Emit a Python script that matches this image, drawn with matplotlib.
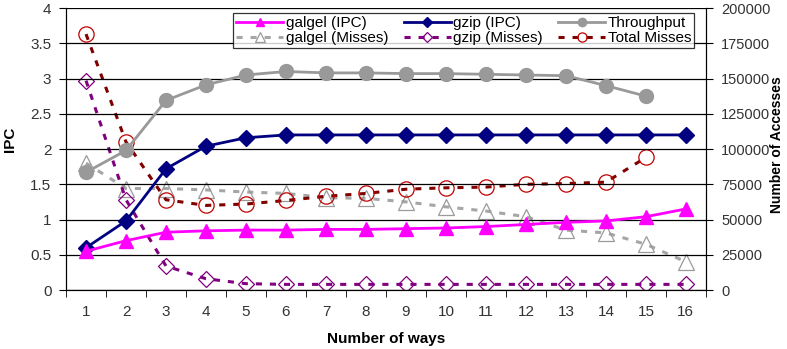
import numpy as np
import matplotlib.pyplot as plt
from matplotlib.ticker import FixedLocator

plt.rcParams['font.family'] = ['Liberation Sans', 'DejaVu Sans']

# ------------------------------------------------------------
# data : IPC per application, throughput and cache misses
# ------------------------------------------------------------
ways = np.arange(1, 17)
galgel_ipc = [0.55, 0.70, 0.82, 0.84, 0.85, 0.85, 0.86, 0.86, 0.87, 0.88, 0.90, 0.93, 0.96, 0.98, 1.04, 1.15]
gzip_ipc = [0.60, 0.98, 1.72, 2.04, 2.16, 2.20, 2.20, 2.20, 2.20, 2.20, 2.20, 2.20, 2.20, 2.20, 2.20, 2.20]
throughput = [1.67, 1.98, 2.69, 2.91, 3.05, 3.10, 3.08, 3.08, 3.07, 3.07, 3.06, 3.05, 3.04, 2.90, 2.75]
galgel_misses = [90000, 72000, 72000, 71000, 69500, 68500, 65500, 65000, 62500, 59000, 56000, 52000, 42500, 40500, 32500, 20000]
gzip_misses = [148500, 64000, 17000, 8000, 4500, 4000, 4000, 4000, 4000, 4000, 4000, 4000, 4000, 4000, 4000, 4000]
total_misses = [181500, 105000, 64000, 60000, 61000, 63500, 66500, 68500, 71500, 72500, 73000, 75000, 75500, 76500, 94000]

fig = plt.figure(figsize=(7.87, 3.49), dpi=100)
ax = fig.add_axes([0.0839, 0.169, 0.813, 0.808])
ax2 = ax.twinx()

dash = (0, (2.0, 2.6))

# misses on the right axis
h_galm, = ax2.plot(ways, galgel_misses, color='#a6a6a6', lw=2.2, ls=dash,
                   marker='^', ms=11, mfc='none', mec='#9a9a9a', mew=0.9, label='galgel (Misses)')
h_gzm, = ax2.plot(ways, gzip_misses, color='#800080', lw=2.2, ls=dash,
                  marker='D', ms=8.5, mfc='none', mec='#800080', mew=0.9, label='gzip (Misses)')
h_tot, = ax2.plot(ways[:len(total_misses)], total_misses, color='#800000', lw=2.2, ls=dash,
                  marker='o', ms=11, mfc='none', mec='#c00000', mew=0.9, label='Total Misses')

# IPC on the left axis
h_tp, = ax.plot(ways[:len(throughput)], throughput, color='#999999', lw=2,
                marker='o', ms=10, mec='#999999', label='Throughput')
h_gz, = ax.plot(ways, gzip_ipc, color='#000080', lw=2,
                marker='D', ms=8.5, label='gzip (IPC)')
h_gal, = ax.plot(ways, galgel_ipc, color='#ff00ff', lw=2,
                 marker='^', ms=10, label='galgel (IPC)')

ax.set_zorder(ax2.get_zorder() + 1)
ax.patch.set_visible(False)

ax.set_xlim(0.5, 16.5)
ax.set_ylim(0, 4)
ax2.set_ylim(0, 200000)
ax.set_yticks(np.arange(0, 4.01, 0.5))
ax.set_yticklabels(['0', '0.5', '1', '1.5', '2', '2.5', '3', '3.5', '4'])
ax2.set_yticks(np.arange(0, 200001, 25000))
ax.yaxis.grid(True, color='black', lw=0.9)

# category ticks sit between the way labels
ax.set_xticks(ways)
ax.set_xticklabels([str(w) for w in ways])
ax.xaxis.set_minor_locator(FixedLocator(np.arange(0.5, 16.6, 1)))
ax.tick_params(axis='x', which='major', length=0, pad=11)
ax.tick_params(axis='x', which='minor', length=5, direction='out', color='black')

for a in (ax, ax2):
    a.tick_params(axis='y', length=5, direction='out', labelsize=11, colors='#333333')
    a.tick_params(axis='x', labelsize=11, labelcolor='#333333')
    a.spines['top'].set_visible(False)
    for s in ('left', 'right', 'bottom'):
        a.spines[s].set_color('black')
ax.tick_params(axis='y', color='black', pad=5.5)
ax2.tick_params(axis='y', color='black', pad=6, labelsize=10.5)

ax.set_xlabel('Number of ways', fontsize=11, fontweight='bold', labelpad=9)
ax.set_ylabel('IPC', fontsize=11, fontweight='bold')
ax.yaxis.set_label_coords(-0.076, 0.535)
ax2.set_ylabel('Number of Accesses', fontsize=10, fontweight='bold')
ax2.yaxis.set_label_coords(1.100, 0.515)

handles = [h_gal, h_galm, h_gz, h_gzm, h_tp, h_tot]
leg = ax.legend(handles=handles, ncol=3, loc='upper left', bbox_to_anchor=(0.261, 0.983),
                fontsize=11, frameon=True, fancybox=False, edgecolor='black',
                handlelength=3.1, columnspacing=1.0, borderpad=0.2, labelspacing=0.1,
                handletextpad=0.15, markerscale=0.6, borderaxespad=0)
leg.get_frame().set_linewidth(0.9)

fig.savefig('out.png', dpi=100)
